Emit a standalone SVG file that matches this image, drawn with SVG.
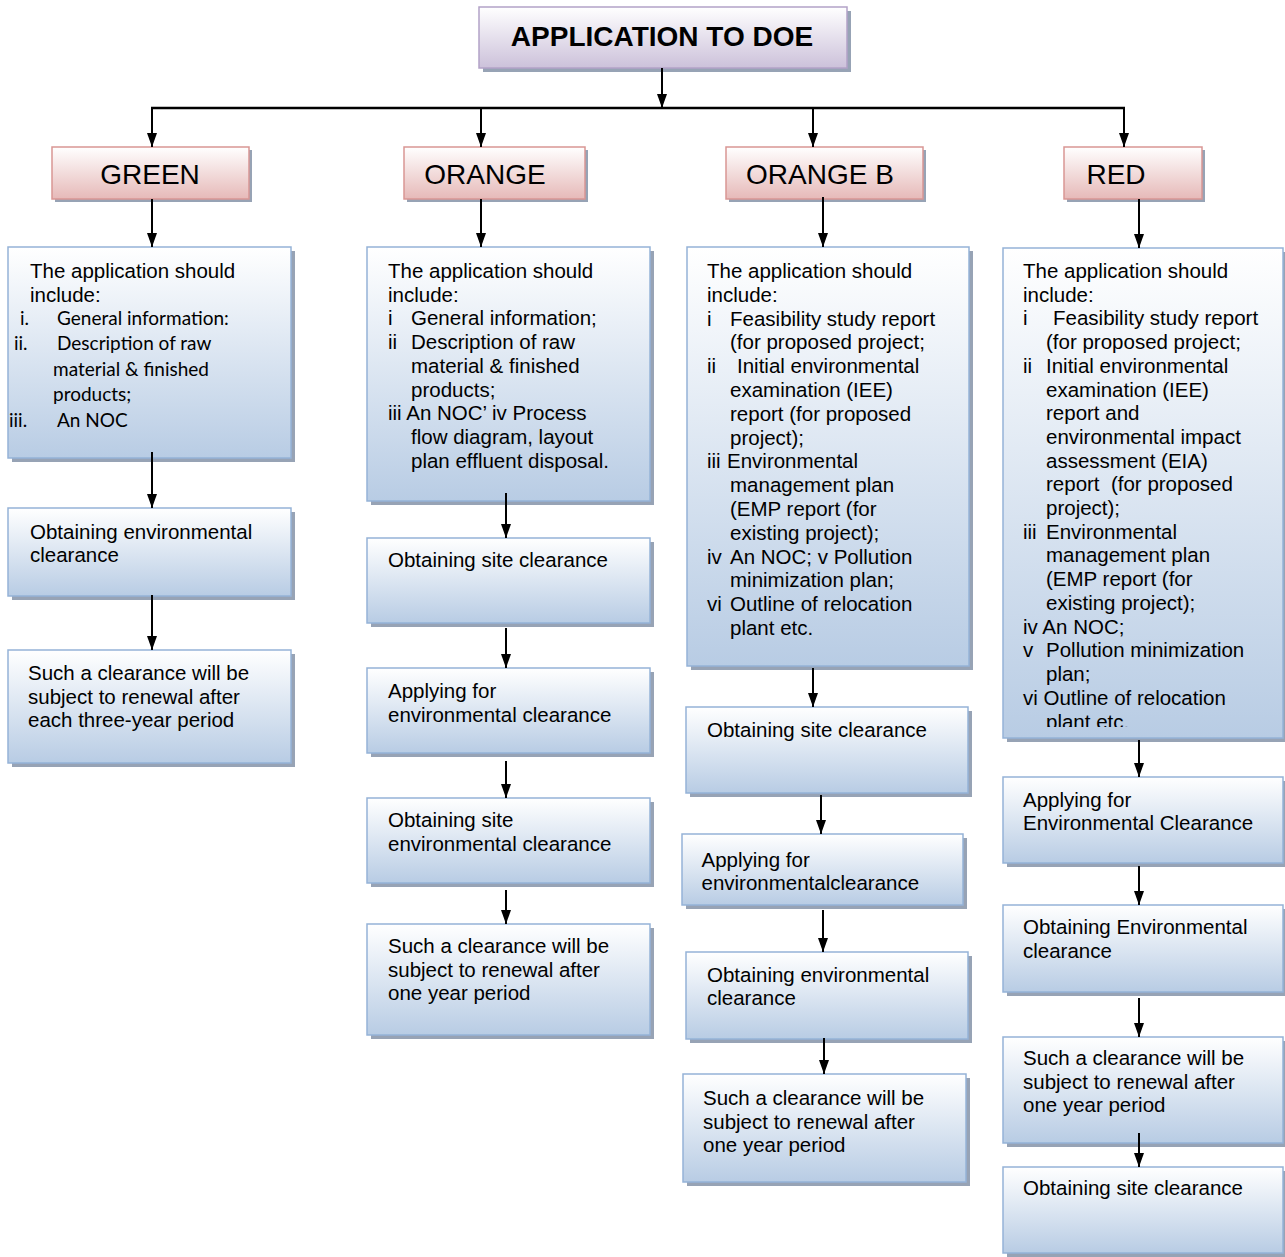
<svg xmlns="http://www.w3.org/2000/svg" width="1285" height="1257" viewBox="0 0 1285 1257">
  <defs>
    <linearGradient id="blueGrad" x1="0" y1="0" x2="0" y2="1">
      <stop offset="0" stop-color="#ffffff"/>
      <stop offset="1" stop-color="#b8cce4"/>
    </linearGradient>
    <linearGradient id="redGrad" x1="0" y1="0" x2="0" y2="1">
      <stop offset="0" stop-color="#ffffff"/>
      <stop offset="1" stop-color="#e6b9b8"/>
    </linearGradient>
    <linearGradient id="purpleGrad" x1="0" y1="0" x2="0" y2="1">
      <stop offset="0" stop-color="#ffffff"/>
      <stop offset="1" stop-color="#ccc1da"/>
    </linearGradient>
    <marker id="arrow" viewBox="0 0 14 10" refX="14" refY="5" markerWidth="14" markerHeight="10" markerUnits="userSpaceOnUse" orient="auto">
      <path d="M0,0 L14,5 L0,10 z" fill="#000"/>
    </marker>
    <clipPath id="redListClip">
      <rect x="1003" y="248" width="282" height="479"/>
    </clipPath>
  </defs>
  <style>
    .shadow { fill: #8593a8; opacity: 0.85; }
    .blue { fill: url(#blueGrad); stroke: #95b3d7; stroke-width: 1.5; }
    .red { fill: url(#redGrad); stroke: #d99694; stroke-width: 1.5; }
    .purple { fill: url(#purpleGrad); stroke: #b3a2c7; stroke-width: 1.5; }
    text { font-family: "Liberation Sans", Arial, sans-serif; fill: #000; }
    .t { font-size: 20.5px; }
    .c { font-family: Lato, "Liberation Sans", sans-serif; font-size: 19px; }
    .cat { font-size: 28px; text-anchor: middle; }
    .title { font-size: 28px; font-weight: bold; text-anchor: middle; }
    .conn line { stroke: #000; stroke-width: 2; marker-end: url(#arrow); }
    .conn .bus { stroke-width: 2.5; marker-end: none; }
  </style>

  <rect width="1285" height="1257" fill="#ffffff"/>

  <!-- header -->
  <g id="application">
    <rect class="shadow" x="483" y="11" width="368" height="61"/>
    <rect class="purple" x="479" y="7" width="368" height="61"/>
    <text class="title" x="662" y="46">APPLICATION TO DOE</text>
  </g>

  <!-- categories -->
  <g id="cat-green">
    <rect class="shadow" x="55" y="150" width="197" height="52"/>
    <rect class="red" x="52" y="147" width="197" height="52"/>
    <text class="cat" x="150" y="184">GREEN</text>
  </g>
  <g id="cat-orange">
    <rect class="shadow" x="407" y="150" width="181" height="52"/>
    <rect class="red" x="404" y="147" width="181" height="52"/>
    <text class="cat" x="485" y="184">ORANGE</text>
  </g>
  <g id="cat-orange-b">
    <rect class="shadow" x="729" y="150" width="197" height="52"/>
    <rect class="red" x="726" y="147" width="197" height="52"/>
    <text class="cat" x="820" y="184">ORANGE B</text>
  </g>
  <g id="cat-red">
    <rect class="shadow" x="1067" y="150" width="138" height="52"/>
    <rect class="red" x="1064" y="147" width="138" height="52"/>
    <text class="cat" x="1116" y="184">RED</text>
  </g>

  <!-- GREEN column -->
  <g id="green-include">
    <rect class="shadow" x="12" y="251" width="283" height="211"/>
    <rect class="blue" x="8" y="247" width="283" height="211"/>
    <text class="t" x="30" y="278">The application should</text>
    <text class="t" x="30" y="301.5">include:</text>
    <text class="c" y="325"><tspan x="20">i.</tspan><tspan x="57">General information:</tspan></text>
    <text class="c" y="350"><tspan x="14">ii.</tspan><tspan x="57">Description of raw</tspan></text>
    <text class="c" x="53" y="376">material &amp; finished</text>
    <text class="c" x="53" y="401">products;</text>
    <text class="c" y="427"><tspan x="9">iii.</tspan><tspan x="57">An NOC</tspan></text>
  </g>
  <g id="green-clearance">
    <rect class="shadow" x="12" y="512" width="283" height="88"/>
    <rect class="blue" x="8" y="508" width="283" height="88"/>
    <text class="t" x="30" y="539">Obtaining environmental</text>
    <text class="t" x="30" y="562">clearance</text>
  </g>
  <g id="green-renewal">
    <rect class="shadow" x="12" y="654" width="283" height="113"/>
    <rect class="blue" x="8" y="650" width="283" height="113"/>
    <text class="t" x="28" y="680">Such a clearance will be</text>
    <text class="t" x="28" y="703.5">subject to renewal after</text>
    <text class="t" x="28" y="727">each three-year period</text>
  </g>

  <!-- ORANGE column -->
  <g id="orange-include">
    <rect class="shadow" x="371" y="251" width="283" height="254"/>
    <rect class="blue" x="367" y="247" width="283" height="254"/>
    <text class="t" x="388" y="278">The application should</text>
    <text class="t" x="388" y="301.7">include:</text>
    <text class="t" y="325.4"><tspan x="388">i</tspan><tspan x="411">General information;</tspan></text>
    <text class="t" y="349.1"><tspan x="388">ii</tspan><tspan x="411">Description of raw</tspan></text>
    <text class="t" x="411" y="372.8">material &amp; finished</text>
    <text class="t" x="411" y="396.5">products;</text>
    <text class="t" x="388" y="420.2">iii An NOC’ iv Process</text>
    <text class="t" x="411" y="443.9">flow diagram, layout</text>
    <text class="t" x="411" y="467.6">plan effluent disposal.</text>
  </g>
  <g id="orange-site">
    <rect class="shadow" x="371" y="542" width="283" height="85"/>
    <rect class="blue" x="367" y="538" width="283" height="85"/>
    <text class="t" x="388" y="566.5">Obtaining site clearance</text>
  </g>
  <g id="orange-apply">
    <rect class="shadow" x="371" y="672" width="283" height="85"/>
    <rect class="blue" x="367" y="668" width="283" height="85"/>
    <text class="t" x="388" y="698">Applying for</text>
    <text class="t" x="388" y="721.5">environmental clearance</text>
  </g>
  <g id="orange-obtain">
    <rect class="shadow" x="371" y="802" width="283" height="85"/>
    <rect class="blue" x="367" y="798" width="283" height="85"/>
    <text class="t" x="388" y="827">Obtaining site</text>
    <text class="t" x="388" y="850.5">environmental clearance</text>
  </g>
  <g id="orange-renewal">
    <rect class="shadow" x="371" y="928" width="283" height="111"/>
    <rect class="blue" x="367" y="924" width="283" height="111"/>
    <text class="t" x="388" y="953">Such a clearance will be</text>
    <text class="t" x="388" y="976.5">subject to renewal after</text>
    <text class="t" x="388" y="1000">one year period</text>
  </g>

  <!-- ORANGE B column -->
  <g id="orange-b-include">
    <rect class="shadow" x="691" y="251" width="282" height="419"/>
    <rect class="blue" x="687" y="247" width="282" height="419"/>
    <text class="t" x="707" y="278">The application should</text>
    <text class="t" x="707" y="301.8">include:</text>
    <text class="t" y="325.6"><tspan x="707">i</tspan><tspan x="730">Feasibility study report</tspan></text>
    <text class="t" x="730" y="349.4">(for proposed project;</text>
    <text class="t" y="373.2"><tspan x="707">ii</tspan><tspan x="737">Initial environmental</tspan></text>
    <text class="t" x="730" y="397">examination (IEE)</text>
    <text class="t" x="730" y="420.8">report (for proposed</text>
    <text class="t" x="730" y="444.6">project);</text>
    <text class="t" y="468.4"><tspan x="707">iii</tspan><tspan x="727">Environmental</tspan></text>
    <text class="t" x="730" y="492.2">management plan</text>
    <text class="t" x="730" y="516">(EMP report (for</text>
    <text class="t" x="730" y="539.8">existing project);</text>
    <text class="t" y="563.6"><tspan x="707">iv</tspan><tspan x="730">An NOC; v Pollution</tspan></text>
    <text class="t" x="730" y="587.4">minimization plan;</text>
    <text class="t" y="611.2"><tspan x="707">vi</tspan><tspan x="730">Outline of relocation</tspan></text>
    <text class="t" x="730" y="635">plant etc.</text>
  </g>
  <g id="orange-b-site">
    <rect class="shadow" x="690" y="711" width="282" height="86"/>
    <rect class="blue" x="686" y="707" width="282" height="86"/>
    <text class="t" x="707" y="736.5">Obtaining site clearance</text>
  </g>
  <g id="orange-b-apply">
    <rect class="shadow" x="686" y="838" width="281" height="71"/>
    <rect class="blue" x="682" y="834" width="281" height="71"/>
    <text class="t" x="701.5" y="866.5">Applying for</text>
    <text class="t" x="701.5" y="890">environmentalclearance</text>
  </g>
  <g id="orange-b-obtain">
    <rect class="shadow" x="690" y="956" width="282" height="87"/>
    <rect class="blue" x="686" y="952" width="282" height="87"/>
    <text class="t" x="707" y="981.5">Obtaining environmental</text>
    <text class="t" x="707" y="1005">clearance</text>
  </g>
  <g id="orange-b-renewal">
    <rect class="shadow" x="687" y="1078" width="283" height="108"/>
    <rect class="blue" x="683" y="1074" width="283" height="108"/>
    <text class="t" x="703" y="1105">Such a clearance will be</text>
    <text class="t" x="703" y="1128.5">subject to renewal after</text>
    <text class="t" x="703" y="1152">one year period</text>
  </g>

  <!-- RED column -->
  <g id="red-include">
    <rect class="shadow" x="1007" y="252" width="280" height="490"/>
    <rect class="blue" x="1003" y="248" width="280" height="490"/>
    <g clip-path="url(#redListClip)">
      <text class="t" x="1023" y="278">The application should</text>
      <text class="t" x="1023" y="301.7">include:</text>
      <text class="t" y="325.4"><tspan x="1023">i</tspan><tspan x="1053">Feasibility study report</tspan></text>
      <text class="t" x="1046" y="349.1">(for proposed project;</text>
      <text class="t" y="372.8"><tspan x="1023">ii</tspan><tspan x="1046">Initial environmental</tspan></text>
      <text class="t" x="1046" y="396.5">examination (IEE)</text>
      <text class="t" x="1046" y="420.2">report and</text>
      <text class="t" x="1046" y="443.9">environmental impact</text>
      <text class="t" x="1046" y="467.6">assessment (EIA)</text>
      <text class="t" x="1046" y="491.3" xml:space="preserve">report  (for proposed</text>
      <text class="t" x="1046" y="515">project);</text>
      <text class="t" y="538.7"><tspan x="1023">iii</tspan><tspan x="1046">Environmental</tspan></text>
      <text class="t" x="1046" y="562.4">management plan</text>
      <text class="t" x="1046" y="586.1">(EMP report (for</text>
      <text class="t" x="1046" y="609.8">existing project);</text>
      <text class="t" x="1023" y="633.5">iv An NOC;</text>
      <text class="t" y="657.2"><tspan x="1023">v</tspan><tspan x="1046">Pollution minimization</tspan></text>
      <text class="t" x="1046" y="680.9">plan;</text>
      <text class="t" x="1023" y="704.6">vi Outline of relocation</text>
      <text class="t" x="1046" y="728.8">plant etc.</text>
    </g>
  </g>
  <g id="red-apply">
    <rect class="shadow" x="1007" y="781" width="280" height="86"/>
    <rect class="blue" x="1003" y="777" width="280" height="86"/>
    <text class="t" x="1023" y="806.5">Applying for</text>
    <text class="t" x="1023" y="830">Environmental Clearance</text>
  </g>
  <g id="red-obtain">
    <rect class="shadow" x="1007" y="909" width="280" height="87"/>
    <rect class="blue" x="1003" y="905" width="280" height="87"/>
    <text class="t" x="1023" y="934">Obtaining Environmental</text>
    <text class="t" x="1023" y="957.5">clearance</text>
  </g>
  <g id="red-renewal">
    <rect class="shadow" x="1007" y="1041" width="280" height="106"/>
    <rect class="blue" x="1003" y="1037" width="280" height="106"/>
    <text class="t" x="1023" y="1065">Such a clearance will be</text>
    <text class="t" x="1023" y="1088.5">subject to renewal after</text>
    <text class="t" x="1023" y="1112">one year period</text>
  </g>
  <g id="red-site">
    <rect class="shadow" x="1007" y="1171" width="280" height="86"/>
    <rect class="blue" x="1003" y="1167" width="280" height="86"/>
    <text class="t" x="1023" y="1195">Obtaining site clearance</text>
  </g>

  <!-- connectors -->
  <g id="connectors" class="conn">
    <line x1="662" y1="68" x2="662" y2="108"/>
    <line class="bus" x1="151" y1="108" x2="1125" y2="108"/>
    <line x1="152" y1="108" x2="152" y2="147"/>
    <line x1="481" y1="108" x2="481" y2="147"/>
    <line x1="813" y1="108" x2="813" y2="147"/>
    <line x1="1124" y1="108" x2="1124" y2="147"/>

    <line x1="152" y1="199" x2="152" y2="247"/>
    <line x1="152" y1="452" x2="152" y2="508"/>
    <line x1="152" y1="595" x2="152" y2="650"/>

    <line x1="481" y1="199" x2="481" y2="247"/>
    <line x1="506" y1="493" x2="506" y2="538"/>
    <line x1="506" y1="628" x2="506" y2="668"/>
    <line x1="506" y1="761" x2="506" y2="798"/>
    <line x1="506" y1="890" x2="506" y2="924"/>

    <line x1="823" y1="197" x2="823" y2="247"/>
    <line x1="813" y1="668" x2="813" y2="707"/>
    <line x1="821" y1="795" x2="821" y2="834"/>
    <line x1="823" y1="910" x2="823" y2="952"/>
    <line x1="824" y1="1038" x2="824" y2="1074"/>

    <line x1="1139" y1="199" x2="1139" y2="248"/>
    <line x1="1139" y1="740" x2="1139" y2="777"/>
    <line x1="1139" y1="866" x2="1139" y2="905"/>
    <line x1="1139" y1="998" x2="1139" y2="1037"/>
    <line x1="1139" y1="1133" x2="1139" y2="1167"/>
  </g>
</svg>
